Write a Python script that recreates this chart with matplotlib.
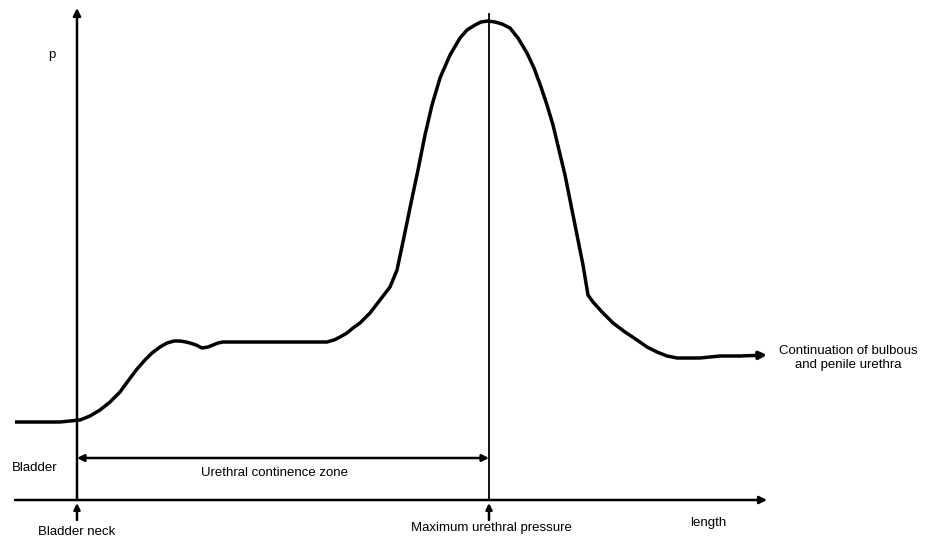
import matplotlib.pyplot as plt

plt.rcParams['font.family'] = ['Liberation Sans', 'DejaVu Sans']

# pressure profile (pixel coordinates, y down)
curve_x = [15, 60, 80, 90, 100, 110, 120, 128, 137, 145, 152, 160, 167, 174, 180,
           186, 190, 196, 202, 208, 213, 218, 223, 327, 334, 340, 347, 353, 360,
           370, 380, 390, 397, 404, 411, 418, 425, 432, 440, 450, 460, 467, 475,
           481, 488, 495, 502, 510, 518, 527, 534, 541, 547, 553, 559, 565, 571,
           577, 583, 588, 593, 603, 613, 625, 637, 647, 657, 667, 677, 700, 720,
           740, 765]
curve_y = [422, 422, 420, 416, 410, 402, 392, 381, 369, 360, 353, 347, 343, 341, 341,
           342, 343, 345, 348, 347, 345, 343, 342, 342, 340, 337, 333, 328, 323,
           313, 300, 287, 270, 237, 203, 170, 135, 105, 78, 55, 38, 30, 25,
           22, 21, 22, 24, 28, 38, 53, 68, 87, 105, 125, 150, 175, 205,
           235, 265, 295, 302, 313, 323, 332, 340, 347, 352, 356, 358, 358, 356,
           356, 355]

neck_x = 77
max_x = 489
base_y = 500

fig = plt.figure(figsize=(9.27, 5.4), dpi=100)
ax = fig.add_axes([0, 0, 1, 1])
ax.set_xlim(0, 927)
ax.set_ylim(540, 0)
ax.axis('off')

lw_axis = 1.8
# axes
ax.annotate('', xy=(neck_x, 8), xytext=(neck_x, base_y),
            arrowprops=dict(arrowstyle='-|>', color='black', lw=lw_axis,
                            mutation_scale=11, shrinkA=0, shrinkB=0))
ax.annotate('', xy=(767, base_y), xytext=(15, base_y),
            arrowprops=dict(arrowstyle='-|>', color='black', lw=lw_axis,
                            mutation_scale=11, shrinkA=0, shrinkB=0))
ax.plot([max_x, max_x], [14, base_y], color='black', lw=1.3)

# curve
ax.plot(curve_x[:-1], curve_y[:-1], color='black', lw=2.5,
        solid_joinstyle='round', solid_capstyle='butt')
ax.annotate('', xy=(curve_x[-1] + 2, curve_y[-1]), xytext=(curve_x[-2], curve_y[-2]),
            arrowprops=dict(arrowstyle='-|>', color='black', lw=2.5,
                            mutation_scale=11, shrinkA=0, shrinkB=0))

# continence zone
ax.annotate('', xy=(neck_x, 458), xytext=(max_x, 458),
            arrowprops=dict(arrowstyle='<|-|>', color='black', lw=1.8,
                            mutation_scale=10, shrinkA=0, shrinkB=0))

# small arrows below the baseline
for x in (neck_x, max_x):
    ax.annotate('', xy=(x, 503), xytext=(x, 520),
                arrowprops=dict(arrowstyle='-|>', color='black', lw=1.8,
                                mutation_scale=9, shrinkA=0, shrinkB=0))

fs = 9.5
ax.text(52, 55, 'p', fontsize=fs, ha='center', va='center')
ax.text(12, 468, 'Bladder', fontsize=fs, ha='left', va='center')
ax.text(77, 532, 'Bladder neck', fontsize=fs, ha='center', va='center')
ax.text(491, 528, 'Maximum urethral pressure', fontsize=fs, ha='center', va='center')
ax.text(708, 523, 'length', fontsize=fs, ha='center', va='center')
ax.text(275, 473, 'Urethral continence zone', fontsize=fs, ha='center', va='center')
ax.text(848, 358, 'Continuation of bulbous\nand penile urethra', fontsize=fs,
        ha='center', va='center', linespacing=1.2)

fig.savefig('out.png', dpi=100)
